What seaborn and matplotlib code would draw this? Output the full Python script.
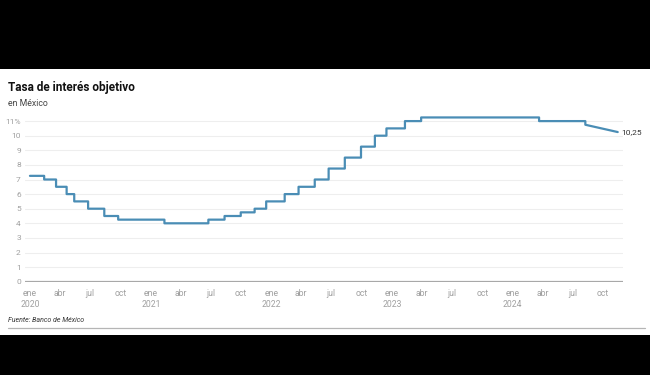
import matplotlib
matplotlib.use("Agg")
import matplotlib.pyplot as plt
from matplotlib.patches import Rectangle
from matplotlib.lines import Line2D
import seaborn as sns
import pandas as pd

# Policy-rate decisions (date of change, new rate) drawn as steps
step_dates = ["2020-01-01", "2020-02-13", "2020-03-20", "2020-04-21", "2020-05-14",
              "2020-06-25", "2020-08-13", "2020-09-24", "2021-02-11", "2021-06-24",
              "2021-08-12", "2021-09-30", "2021-11-11", "2021-12-16", "2022-02-10",
              "2022-03-24", "2022-05-12", "2022-06-23", "2022-08-11", "2022-09-29",
              "2022-11-10", "2022-12-15", "2023-02-09", "2023-03-30", "2024-03-21",
              "2024-08-08"]
step_rates = [7.25, 7.00, 6.50, 6.00, 5.50, 5.00, 4.50, 4.25, 4.00, 4.25,
              4.50, 4.75, 5.00, 5.50, 6.00, 6.50, 7.00, 7.75, 8.50, 9.25,
              10.00, 10.50, 11.00, 11.25, 11.00, 10.75]
# final segment drawn as a straight line
tail_dates = ["2024-09-26", "2024-11-14"]
tail_rates = [10.50, 10.25]

yticks = list(range(0, 12))
ytick_labels = [str(v) for v in yticks[:-1]] + ["11%"]
month_names = {1: "ene", 4: "abr", 7: "jul", 10: "oct"}

# build path
xs, ys = [], []
sd = pd.to_datetime(step_dates)
for i, (d, r) in enumerate(zip(sd, step_rates)):
    xs.append(d); ys.append(r)
    if i + 1 < len(sd):
        xs.append(sd[i + 1]); ys.append(r)
for d, r in zip(pd.to_datetime(tail_dates), tail_rates):
    xs.append(d); ys.append(r)
df = pd.DataFrame({"fecha": xs, "tasa": ys})

sns.set_theme(style="white")
plt.rcParams["font.family"] = ["Roboto", "DejaVu Sans"]

fig = plt.figure(figsize=(6.5, 3.75), dpi=100)
fig.patch.set_facecolor("black")
fig.patches.append(Rectangle((0, 1 - 335 / 375), 1, (335 - 69) / 375,
                             transform=fig.transFigure, facecolor="white",
                             edgecolor="none", zorder=-10))

ax = fig.add_axes([25 / 650, 1 - 281.7 / 375, (623 - 25) / 650, (281.7 - 113.8) / 375])
ax.patch.set_alpha(0)
ax.set_zorder(1)

for v in yticks[1:]:
    ax.axhline(v, color="#eeeeee", lw=0.8, zorder=1)
ax.axhline(0, color="#a8a8a8", lw=1.6, zorder=2)

sns.lineplot(data=df, x="fecha", y="tasa", sort=False, estimator=None,
             color="#4a8db5", lw=1.6, ax=ax, zorder=3)

ax.set_xlim(pd.Timestamp("2019-12-17"), pd.Timestamp("2024-11-30"))
ax.set_ylim(0, 11.5)
ax.set_xlabel("")
ax.set_ylabel("")
for s in ax.spines.values():
    s.set_visible(False)

ax.set_yticks(yticks)
ax.set_yticklabels(ytick_labels)
ax.tick_params(axis="y", length=0, pad=3, labelsize=6, labelcolor="#a0a0a0")

xt = pd.date_range("2020-01-01", "2024-10-01", freq="QS")
ax.set_xticks(xt)
ax.set_xticklabels([month_names[d.month] + ("\n%d" % d.year if d.month == 1 else "") for d in xt])
ax.tick_params(axis="x", length=0, pad=5, labelsize=6.2, labelcolor="#a0a0a0")
for t in ax.get_xticklabels():
    t.set_linespacing(1.35)
    t.set_verticalalignment("top")

ax.text(pd.Timestamp("2024-11-24"), tail_rates[-1], "10,25", fontsize=6,
        color="#333333", va="center", ha="left", clip_on=False)

fig.text(8 / 650, 1 - 87 / 375, "Tasa de interés objetivo", fontsize=8.5,
         fontweight="bold", color="#111111", va="center", ha="left")
fig.text(8 / 650, 1 - 103 / 375, "en México", fontsize=6.3, color="#444444",
         va="center", ha="left")
fig.text(8 / 650, 1 - 320 / 375, "Fuente: Banco de México", fontsize=5,
         style="italic", color="#333333", va="center", ha="left")
fig.add_artist(Line2D([8 / 650, 645 / 650], [1 - 327.5 / 375] * 2,
                      transform=fig.transFigure, color="#b5b5b5", lw=0.9))

fig.savefig("out.png", dpi=100, facecolor=fig.get_facecolor())
